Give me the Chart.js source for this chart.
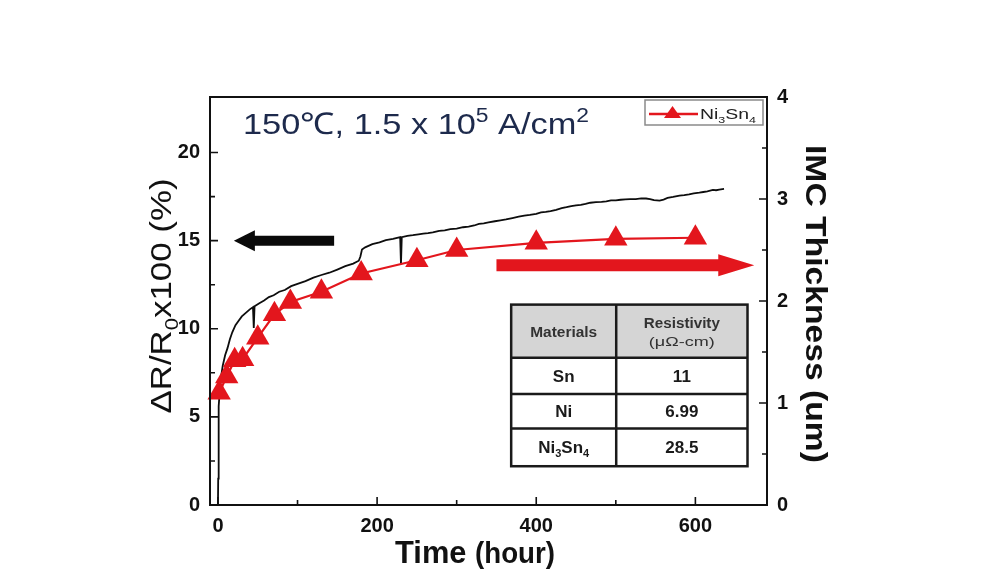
<!DOCTYPE html>
<html>
<head>
<meta charset="utf-8">
<script src="https://cdn.jsdelivr.net/npm/chart.js@4.4.1/dist/chart.umd.min.js"></script>
<style>
  html, body { margin: 0; padding: 0; background: #fff; }
  #wrap { width: 999px; height: 580px; }
</style>
</head>
<body>
<div id="wrap"><canvas id="resultChart" width="999" height="580"></canvas></div>
<script>
// ΔR/R0 (左軸) の測定データ
const resTime = [0, 0.3, 0.6, 1.2, 2.5, 4, 6, 9, 12, 15, 18, 22, 26, 30, 35, 40, 44, 45, 46, 52, 58, 64, 70, 77, 84, 92,
  100, 110, 120, 130, 140, 150, 160, 170, 177, 179, 181, 185, 194, 203, 211, 220, 229, 230, 231, 238, 245, 252, 258, 264, 270, 278, 285,
  292, 300, 308, 315, 322, 328, 334, 340, 348, 355, 362, 370, 378, 385, 392, 400, 406, 412, 418, 425, 432, 438, 444, 450, 456, 462, 468, 475, 482, 488, 494,
  500, 506, 512, 518, 525, 532, 538, 543, 548, 555, 560, 565, 572, 580, 586, 592, 598, 605, 610, 615, 622, 626, 630, 636];
const resValue = [0, 1.5, 4.8, 5.6, 6.6, 7.3, 7.9, 8.5, 8.9, 9.4, 9.8, 10.2, 10.45, 10.7, 10.9, 11.1, 11.22, 10.05, 11.28, 11.45, 11.6, 11.8, 11.9, 12.1, 12.2, 12.42,
  12.55, 12.7, 12.9, 13.05, 13.18, 13.36, 13.55, 13.7, 13.86, 14.1, 14.5, 14.62, 14.8, 14.9, 15.03, 15.1, 15.2, 13.65, 15.2, 15.27, 15.31, 15.36, 15.4, 15.43, 15.47, 15.55, 15.58,
  15.65, 15.68, 15.76, 15.8, 15.86, 15.95, 15.98, 16.03, 16.1, 16.15, 16.2, 16.28, 16.36, 16.42, 16.46, 16.52, 16.6, 16.63, 16.68, 16.75, 16.85, 16.9, 16.96, 17.0, 17.03, 17.08, 17.15, 17.18, 17.2, 17.23, 17.28,
  17.28, 17.32, 17.34, 17.35, 17.36, 17.4, 17.39, 17.36, 17.3, 17.27, 17.33, 17.42, 17.48, 17.56, 17.58, 17.62, 17.68, 17.72, 17.76, 17.8, 17.88, 17.86, 17.9, 17.94];

// IMC厚さ (右軸)
const imcTime = [1.5, 11, 21, 31, 50, 71, 91, 130, 180, 250, 300, 400, 500, 600];
const imcValue = [1.1, 1.26, 1.42, 1.43, 1.64, 1.87, 1.99, 2.09, 2.27, 2.4, 2.5, 2.57, 2.61, 2.62];

// 目盛り
const timeTicks = [0, 200, 400, 600];
const timeMinor = [100, 300, 500];
const resTicks = [0, 5, 10, 15, 20];
const resMinor = [2.5, 7.5, 12.5, 17.5];
const imcTicks = [0, 1, 2, 3, 4];
const imcMinor = [0.5, 1.5, 2.5, 3.5];

// 表の中身
const tableMaterials = ["Sn", "Ni", "Ni3Sn4"];
const tableResistivity = ["11", "6.99", "28.5"];

const FONT = '"Liberation Sans", Arial, sans-serif';

// 文字列パーツ（上付き・下付き込み）を描くお助け関数
function drawRich(ctx, parts, x, y, angle, width, sy = 1) {
  let total = 0;
  parts.forEach((p) => { ctx.font = p[1]; total += ctx.measureText(p[0]).width; });
  ctx.save();
  ctx.translate(x, y);
  ctx.rotate(angle);
  ctx.scale(width ? width / total : 1, sy);
  ctx.textAlign = "left";
  ctx.textBaseline = "alphabetic";
  let cx = -total / 2;
  parts.forEach((p) => {
    ctx.font = p[1];
    ctx.fillText(p[0], cx, p[2] || 0);
    cx += ctx.measureText(p[0]).width;
  });
  ctx.restore();
}

// 塗りつぶし矢印
function drawArrow(ctx, x0, x1, y, shaft, head, headLen, color) {
  const dir = x1 > x0 ? 1 : -1;
  const xb = x1 - dir * headLen;
  ctx.save();
  ctx.fillStyle = color;
  ctx.beginPath();
  ctx.moveTo(x0, y - shaft / 2);
  ctx.lineTo(xb, y - shaft / 2);
  ctx.lineTo(xb, y - head / 2);
  ctx.lineTo(x1, y);
  ctx.lineTo(xb, y + head / 2);
  ctx.lineTo(xb, y + shaft / 2);
  ctx.lineTo(x0, y + shaft / 2);
  ctx.closePath();
  ctx.fill();
  ctx.restore();
}

function subParts(label, size, subSize, weight) {
  // "Ni3Sn4" → Ni ₃ Sn ₄
  const out = [];
  label.match(/[A-Za-z]+|\d+/g).forEach((s) => {
    if (/\d/.test(s)) out.push([s, `${weight} ${subSize}px ${FONT}`, 4]);
    else out.push([s, `${weight} ${size}px ${FONT}`, 0]);
  });
  return out;
}

const decorPlugin = {
  id: "decor",
  afterDatasetsDraw(chart) {
    const { ctx, chartArea: a, scales } = chart;
    const x = scales.x, yl = scales.y, yr = scales.y1;

    // 枠
    ctx.save();
    ctx.strokeStyle = "#111";
    ctx.lineWidth = 2;
    ctx.strokeRect(a.left, a.top, a.right - a.left, a.bottom - a.top);

    // 内向きの目盛り
    ctx.lineWidth = 1.6;
    ctx.beginPath();
    const tickX = (vals, len) => vals.forEach((v) => {
      const p = x.getPixelForValue(v);
      ctx.moveTo(p, a.bottom); ctx.lineTo(p, a.bottom - len);
    });
    const tickL = (vals, len) => vals.forEach((v) => {
      const p = yl.getPixelForValue(v);
      ctx.moveTo(a.left, p); ctx.lineTo(a.left + len, p);
    });
    const tickR = (vals, len) => vals.forEach((v) => {
      const p = yr.getPixelForValue(v);
      ctx.moveTo(a.right, p); ctx.lineTo(a.right - len, p);
    });
    tickX(timeTicks, 8); tickX(timeMinor, 5);
    tickL(resTicks, 8); tickL(resMinor, 5);
    tickR(imcTicks, 8); tickR(imcMinor, 5);
    ctx.stroke();
    ctx.restore();

    // 条件テキスト
    ctx.fillStyle = "#1d2a4c";
    drawRich(ctx, [
      ["150℃, 1.5 x 10", `30px ${FONT}`],
      ["5", `20px ${FONT}`, -12],
      [" A/cm", `30px ${FONT}`],
      ["2", `20px ${FONT}`, -12],
    ], 416, 134, 0, 346);

    // 矢印（左軸・右軸を指す）
    drawArrow(ctx, x.getPixelForValue(146), x.getPixelForValue(20), yl.getPixelForValue(15), 10, 21, 21, "#0a0a0a");
    drawArrow(ctx, x.getPixelForValue(350), x.getPixelForValue(674), yr.getPixelForValue(2.35), 12, 22, 36, "#e3161d");

    // 凡例
    ctx.save();
    ctx.fillStyle = "#fff";
    ctx.strokeStyle = "#8a8a8a";
    ctx.lineWidth = 1.5;
    ctx.fillRect(645, 100, 118, 25);
    ctx.strokeRect(645, 100, 118, 25);
    ctx.strokeStyle = "#e3161d";
    ctx.lineWidth = 2.5;
    ctx.beginPath(); ctx.moveTo(649, 114); ctx.lineTo(698, 114); ctx.stroke();
    ctx.fillStyle = "#e3161d";
    ctx.beginPath(); ctx.moveTo(672.5, 106); ctx.lineTo(681, 118); ctx.lineTo(664, 118); ctx.closePath(); ctx.fill();
    ctx.fillStyle = "#222";
    drawRich(ctx, subParts("Ni3Sn4", 14, 9, "normal"), 728, 119, 0, 56);
    ctx.restore();

    // 抵抗率の表
    const tx0 = x.getPixelForValue(368.5), tx1 = x.getPixelForValue(500.5), tx2 = x.getPixelForValue(665.5);
    const rows = [11.37, 8.35, 6.3, 4.34, 2.2].map((v) => yl.getPixelForValue(v));
    ctx.save();
    ctx.fillStyle = "#fff";
    ctx.fillRect(tx0, rows[0], tx2 - tx0, rows[4] - rows[0]);
    ctx.fillStyle = "#d5d5d5";
    ctx.fillRect(tx0, rows[0], tx2 - tx0, rows[1] - rows[0]);
    ctx.strokeStyle = "#1a1a1a";
    ctx.lineWidth = 2.5;
    ctx.strokeRect(tx0, rows[0], tx2 - tx0, rows[4] - rows[0]);
    ctx.beginPath();
    ctx.moveTo(tx1, rows[0]); ctx.lineTo(tx1, rows[4]);
    for (let i = 1; i < 4; i++) { ctx.moveTo(tx0, rows[i]); ctx.lineTo(tx2, rows[i]); }
    ctx.stroke();

    const c0 = (tx0 + tx1) / 2, c1 = (tx1 + tx2) / 2;
    ctx.fillStyle = "#333";
    drawRich(ctx, [["Materials", `bold 14px ${FONT}`]], c0, (rows[0] + rows[1]) / 2 + 6, 0, 67);
    drawRich(ctx, [["Resistivity", `bold 14px ${FONT}`]], c1, rows[0] + 23, 0, 76);
    drawRich(ctx, [["(μΩ-cm)", `13px ${FONT}`]], c1, rows[0] + 41, 0, 66);
    ctx.fillStyle = "#1a1a1a";
    tableMaterials.forEach((m, i) => {
      const cy = (rows[i + 1] + rows[i + 2]) / 2 + 6;
      drawRich(ctx, subParts(m, 17, 11, "bold"), c0, cy, 0);
      drawRich(ctx, [[tableResistivity[i], `bold 17px ${FONT}`]], c1, cy, 0);
    });
    ctx.restore();

    // 軸タイトル
    ctx.fillStyle = "#111";
    drawRich(ctx, [
      ["ΔR/R", `30px ${FONT}`],
      ["0", `19px ${FONT}`, 7],
      ["x100 (%)", `30px ${FONT}`],
    ], 171, 296, -Math.PI / 2, 235);
    drawRich(ctx, [["IMC Thickness (um)", `bold 30px ${FONT}`]], 806, 304, Math.PI / 2, 318);
    drawRich(ctx, [
      ["Time ", `bold 29px ${FONT}`],
      ["(hour)", `bold 26px ${FONT}`],
    ], 475, 563, 0, 160, 1.1);
  },
};

const fixSize = (w, h) => (scale) => {
  if (w !== undefined) scale.width = w;
  if (h !== undefined) scale.height = h;
};

const tickFont = { family: FONT, size: 20, weight: "bold" };

const ctx = document.getElementById("resultChart").getContext("2d");
new Chart(ctx, {
  type: "line",
  data: {
    datasets: [
      {
        label: "Ni3Sn4",
        data: imcTime.map((t, i) => ({ x: t, y: imcValue[i] })),
        yAxisID: "y1",
        borderColor: "#e3161d",
        borderWidth: 2.2,
        pointStyle: "triangle",
        pointRadius: 13.5,
        pointBackgroundColor: "#e3161d",
        pointBorderColor: "#e3161d",
        pointBorderWidth: 0,
        clip: false,
      },
      {
        label: "ΔR/R0",
        data: resTime.map((t, i) => ({ x: t, y: resValue[i] })),
        yAxisID: "y",
        borderColor: "#0d0d0d",
        borderWidth: 1.8,
        pointRadius: 0,
      },
    ],
  },
  options: {
    responsive: false,
    animation: false,
    devicePixelRatio: 1,
    layout: { padding: { top: 97, left: 0, right: 0, bottom: 0 } },
    plugins: { legend: { display: false }, tooltip: { enabled: false } },
    scales: {
      x: {
        type: "linear",
        min: -10,
        max: 690,
        afterBuildTicks: (s) => { s.ticks = timeTicks.map((v) => ({ value: v })); },
        afterFit: fixSize(undefined, 75),
        grid: { display: false, drawTicks: false },
        border: { display: false },
        ticks: { font: tickFont, color: "#111", padding: 9 },
      },
      y: {
        position: "left",
        min: 0,
        max: 23.15,
        afterBuildTicks: (s) => { s.ticks = resTicks.map((v) => ({ value: v })); },
        afterFit: fixSize(210),
        grid: { display: false, drawTicks: false },
        border: { display: false },
        ticks: { font: tickFont, color: "#111", padding: 10 },
      },
      y1: {
        position: "right",
        min: 0,
        max: 4,
        afterBuildTicks: (s) => { s.ticks = imcTicks.map((v) => ({ value: v })); },
        afterFit: fixSize(232),
        grid: { display: false, drawTicks: false },
        border: { display: false },
        ticks: { font: tickFont, color: "#111", padding: 10 },
      },
    },
  },
  plugins: [decorPlugin],
});
</script>
</body>
</html>
